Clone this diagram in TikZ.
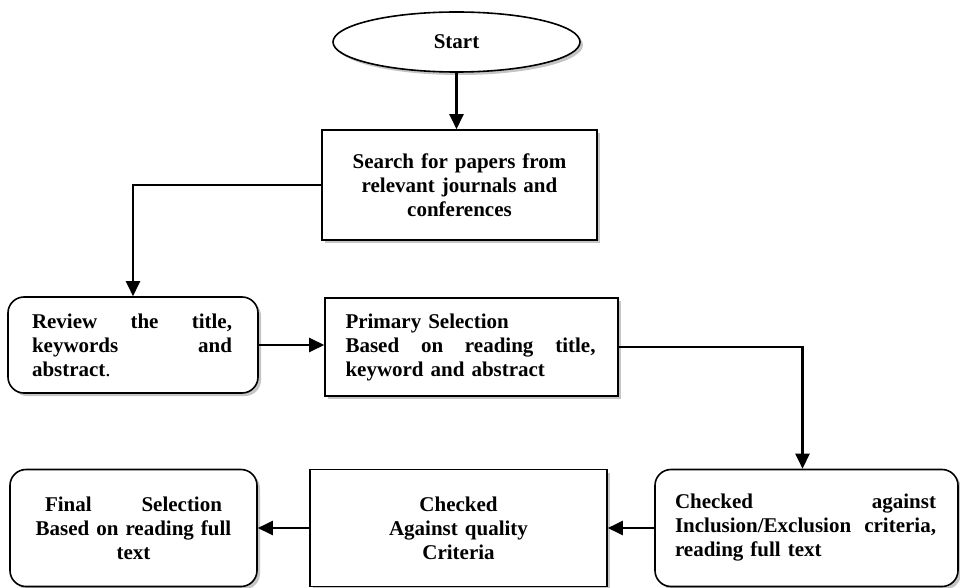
\documentclass[tikz,border=0pt]{standalone}
\usepackage{fontspec}
\setmainfont{Liberation Serif}
\usetikzlibrary{shapes.geometric,arrows.meta,shadows}
\newcommand\jl[2]{\leavevmode\hbox to #1{#2}}
\tikzset{
  txt/.style={font=\fontsize{21pt}{24pt}\selectfont\bfseries},
  sh/.style={drop shadow={shadow xshift=3pt,shadow yshift=-3pt,fill=black!45}},
  sqbox/.style={draw,line width=1.6pt,fill=white,sh,txt,inner sep=0pt},
  rbox/.style={sqbox,rounded corners=16pt},
  conn/.style={line width=2.4pt,-{Triangle[length=15pt,width=14pt]}},
  ghost/.style={line width=2pt,black!35}
}
\begin{document}
\begin{tikzpicture}[x=1pt,y=-1pt]
\useasboundingbox[fill=white] (0,0) rectangle (960,588);
\node[ellipse,draw,line width=1.6pt,fill=white,sh,txt,minimum width=247pt,minimum height=60pt,inner sep=0pt] (start) at (456.5,42) {Start};
\node[sqbox,minimum width=275pt,minimum height=110pt,text width=240pt,align=center] (search) at (459.5,185)
  {Search for papers from\\ relevant journals and\\ conferences};
\node[rbox,minimum width=250pt,minimum height=96pt,text width=202pt,align=left] (review) at (133,345)
  {\jl{200pt}{Review\hfill the\hfill title,}\\ \jl{200pt}{keywords\hfill and}\\ abstract{\mdseries .}};
\node[sqbox,minimum width=293pt,minimum height=98pt,text width=252pt,align=left] (primary) at (471.5,347)
  {Primary Selection\\ \jl{250pt}{Based\hfill on\hfill reading\hfill title,}\\ keyword and abstract};
\node[rbox,minimum width=303pt,minimum height=117pt,text width=263pt,align=left] (checked) at (806.5,528)
  {\jl{261pt}{Checked\hfill against}\\ \jl{261pt}{Inclusion/Exclusion\hfill criteria,}\\ reading full text};
\node[sqbox,minimum width=297pt,minimum height=117pt,text width=250pt,align=center] (quality) at (458.5,528)
  {Checked\\ Against quality\\ Criteria};
\node[rbox,minimum width=247pt,minimum height=117pt,text width=210pt,align=center] (final) at (133.5,528)
  {\jl{177pt}{Final\hfill Selection}\\ Based on reading full\\ text};
\coordinate (c4) at ([xshift=-4pt]checked.north);
% shadowed connectors
\draw[ghost,shift={(3pt,-3pt)}] (search.west) -| ([yshift=12pt]review.north);
\draw[ghost,shift={(0pt,-3pt)}] (review.east) -- ([xshift=-16pt]review.east -| primary.west);
\draw[ghost,shift={(-3pt,-3pt)}] (primary.east) -| ([yshift=12pt]c4);
% connectors
\draw[conn] (start.south) -- (start.south |- search.north);
\draw[conn] (search.west) -| (review.north);
\draw[conn] (review.east) -- (review.east -| primary.west);
\draw[conn] (primary.east) -| (c4);
\draw[conn] (checked.west) -- (checked.west -| quality.east);
\draw[conn] (quality.west) -- (quality.west -| final.east);
\end{tikzpicture}
\end{document}
